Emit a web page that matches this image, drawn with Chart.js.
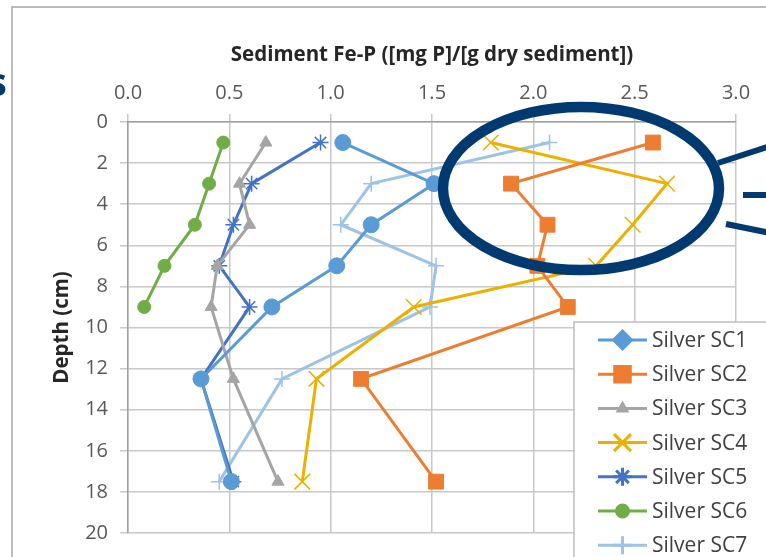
<!DOCTYPE html>
<html>
<head>
<meta charset="utf-8">
<script src="https://cdn.jsdelivr.net/npm/chart.js@4.4.1/dist/chart.umd.min.js"></script>
<style>
  html, body { margin: 0; padding: 0; background: #ffffff; }
  #contenedor { position: relative; width: 766px; height: 557px; overflow: hidden; }
  #letraS {
    position: absolute; left: -13px; top: 61px;
    font: bold 40px "Open Sans", sans-serif; line-height: 1;
    color: #003a70;
  }
</style>
</head>
<body>
<div id="contenedor">
  <canvas id="graficoFeP" width="766" height="557"></canvas>
  <span id="letraS">s</span>
</div>
<script>
// Profundidades de muestreo (cm)
const profundidades = [1, 3, 5, 7, 9, 12.5, 17.5];
const profundidadesSC6 = [1, 3, 5, 7, 9];

// Fe-P en sedimento ([mg P]/[g dry sediment])
const nombresSeries = ["Silver SC1", "Silver SC2", "Silver SC3", "Silver SC4", "Silver SC5", "Silver SC6", "Silver SC7"];
const valoresSC1 = [1.06, 1.51, 1.20, 1.03, 0.71, 0.36, 0.51];
const valoresSC2 = [2.59, 1.89, 2.07, 2.02, 2.17, 1.15, 1.52];
const valoresSC3 = [0.68, 0.55, 0.60, 0.44, 0.41, 0.52, 0.74];
const valoresSC4 = [1.79, 2.66, 2.49, 2.31, 1.41, 0.93, 0.86];
const valoresSC5 = [0.95, 0.61, 0.52, 0.45, 0.60, 0.36, 0.52];
const valoresSC6 = [0.47, 0.40, 0.33, 0.18, 0.08];
const valoresSC7 = [2.08, 1.20, 1.05, 1.52, 1.49, 0.76, 0.45];

// Etiquetas de ejes
const ticksX = [0, 0.5, 1.0, 1.5, 2.0, 2.5, 3.0];
const ticksY = [0, 2, 4, 6, 8, 10, 12, 14, 16, 18, 20];

const fuente = "'Open Sans', 'Liberation Sans', sans-serif";
const colorTexto = "#595959";

function puntos(valores, prof) {
  return valores.map((v, i) => ({ x: v, y: prof[i] }));
}

const estilos = [
  { color: "#5b9bd5", punto: "circle", radio: 8, borde: 1, leyenda: "rectRot", radioLeyenda: 9 },
  { color: "#ed7d31", punto: "rect", radio: 10.5, borde: 1, leyenda: "rect", radioLeyenda: 11 },
  { color: "#a5a5a5", punto: "triangle", radio: 7, borde: 1, leyenda: "triangle", radioLeyenda: 5 },
  { color: "#ebb000", punto: "crossRot", radio: 11, borde: 1.5, leyenda: "crossRot", radioLeyenda: 12 },
  { color: "#4472c4", punto: "star", radio: 8, borde: 1.5, leyenda: "star", radioLeyenda: 9 },
  { color: "#70ad47", punto: "circle", radio: 6.5, borde: 1, leyenda: "circle", radioLeyenda: 6 },
  { color: "#9dc3e6", punto: "cross", radio: 8, borde: 1.5, leyenda: "cross", radioLeyenda: 9 },
];

const datosSeries = [
  puntos(valoresSC1, profundidades),
  puntos(valoresSC2, profundidades),
  puntos(valoresSC3, profundidades),
  puntos(valoresSC4, profundidades),
  puntos(valoresSC5, profundidades),
  puntos(valoresSC6, profundidadesSC6),
  puntos(valoresSC7, profundidades),
];

// Marco exterior del grafico
const marcoExterior = {
  id: "marcoExterior",
  beforeDraw(chart) {
    const ctx = chart.ctx;
    ctx.save();
    ctx.strokeStyle = "#a6a6a6";
    ctx.lineWidth = 1.5;
    ctx.strokeRect(12, 7, 800, 600);
    ctx.restore();
  },
};

// Leyenda dibujada sobre el area del grafico (abajo a la derecha)
const leyendaCaja = {
  id: "leyendaCaja",
  afterDatasetsDraw(chart) {
    const ctx = chart.ctx;
    ctx.save();
    ctx.fillStyle = "#ffffff";
    ctx.fillRect(574, 322, 220, 260);
    ctx.strokeStyle = "#bfbfbf";
    ctx.lineWidth = 1.5;
    ctx.strokeRect(574, 322, 220, 260);
    chart.data.datasets.forEach((ds, i) => {
      const est = estilos[i];
      const y = 340 + i * 34.2;
      ctx.strokeStyle = est.color;
      ctx.lineWidth = 3;
      ctx.beginPath();
      ctx.moveTo(598, y);
      ctx.lineTo(647, y);
      ctx.stroke();
      ctx.fillStyle = est.color;
      ctx.strokeStyle = est.color;
      Chart.helpers.drawPoint(ctx, {
        pointStyle: est.leyenda,
        rotation: 0,
        radius: est.radioLeyenda,
        borderWidth: est.borde,
      }, 622.5, y);
      ctx.fillStyle = "#404040";
      ctx.font = "21px " + fuente;
      ctx.textBaseline = "middle";
      ctx.textAlign = "left";
      ctx.fillText(ds.label, 652, y + 1);
    });
    ctx.restore();
  },
};

// Elipse de resaltado y lineas de llamada
const resaltado = {
  id: "resaltado",
  afterDraw(chart) {
    const ctx = chart.ctx;
    ctx.save();
    ctx.strokeStyle = "#003a70";
    ctx.lineWidth = 10.5;
    ctx.beginPath();
    ctx.ellipse(581, 188.5, 138, 81.5, 0, 0, Math.PI * 2);
    ctx.stroke();
    ctx.lineWidth = 6;
    ctx.beginPath();
    ctx.moveTo(718, 163);
    ctx.lineTo(770, 146);
    ctx.moveTo(743, 195);
    ctx.lineTo(770, 195);
    ctx.moveTo(726, 224);
    ctx.lineTo(770, 233);
    ctx.stroke();
    ctx.restore();
  },
};

const graficoFeP = new Chart(document.getElementById("graficoFeP"), {
  type: "line",
  data: {
    datasets: nombresSeries.map((nombre, i) => ({
      label: nombre,
      data: datosSeries[i],
      borderColor: estilos[i].color,
      backgroundColor: estilos[i].color,
      pointBackgroundColor: estilos[i].color,
      pointBorderColor: estilos[i].color,
      pointStyle: estilos[i].punto,
      pointRadius: estilos[i].radio,
      pointBorderWidth: estilos[i].borde,
      borderWidth: 3,
      tension: 0,
      fill: false,
    })),
  },
  options: {
    responsive: false,
    animation: false,
    layout: { padding: { left: 12, top: 7, right: 30, bottom: 22 } },
    plugins: {
      legend: { display: false },
      tooltip: { enabled: false },
    },
    scales: {
      x: {
        type: "linear",
        position: "top",
        min: 0,
        max: 3,
        afterBuildTicks: (eje) => { eje.ticks = ticksX.map((v) => ({ value: v })); },
        afterFit: (eje) => { eje.height = 115; },
        ticks: {
          color: colorTexto,
          font: { family: fuente, size: 20 },
          padding: 9,
          callback: (v) => Number(v).toFixed(1),
        },
        grid: { color: "#c8c8c8", lineWidth: 1.5, tickLength: 8 },
        border: { color: "#a0a0a0", width: 1.5 },
        title: {
          display: true,
          text: "Sediment Fe-P ([mg P]/[g dry sediment])",
          color: "#262626",
          font: { family: fuente, size: 20.5, weight: "bold" },
          padding: { top: 36, bottom: 4 },
        },
      },
      y: {
        type: "linear",
        reverse: true,
        min: 0,
        max: 20,
        afterBuildTicks: (eje) => { eje.ticks = ticksY.map((v) => ({ value: v })); },
        afterFit: (eje) => { eje.width = 116; },
        ticks: {
          color: colorTexto,
          font: { family: fuente, size: 20 },
          padding: 12,
        },
        grid: { color: "#c8c8c8", lineWidth: 1.5, tickLength: 8 },
        border: { color: "#a0a0a0", width: 1.5 },
        title: {
          display: true,
          text: "Depth (cm)",
          color: "#262626",
          font: { family: fuente, size: 20.5, weight: "bold" },
          padding: { top: 38, bottom: 0 },
        },
      },
    },
  },
  plugins: [marcoExterior, leyendaCaja, resaltado],
});
</script>
</body>
</html>
